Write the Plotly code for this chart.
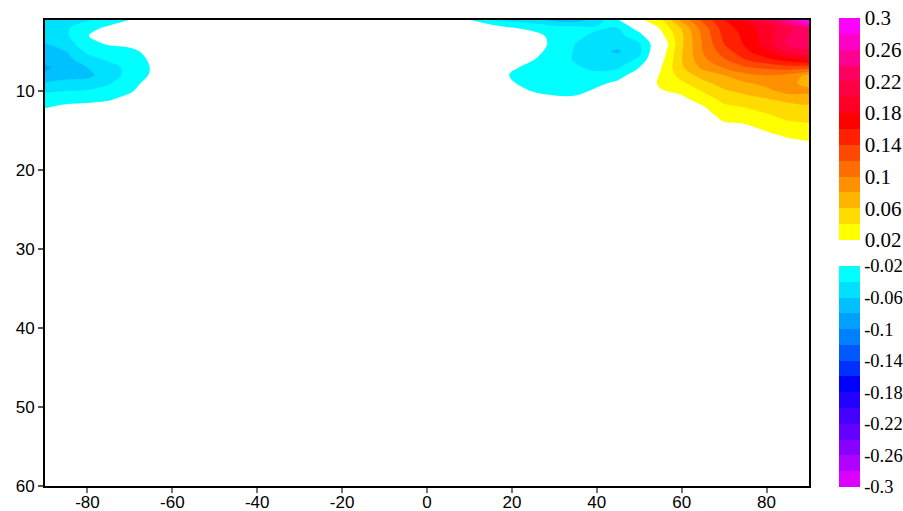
import plotly.graph_objects as go

# ---------------- data ----------------
lon = [-90, -85, -80, -75, -70, -65, -60, 5, 10, 15, 20, 25, 30, 35, 40, 45, 50, 55, 60, 65, 70, 75, 80, 85, 90]
depth = [1, 2, 3, 4, 5, 6, 7, 8, 9, 10, 11, 12, 14, 16, 18, 60]

z_d01 = [-0.045, -0.045, -0.042, -0.035, -0.019, 0, 0, 0, -0.018, -0.04, -0.046, -0.05, -0.065, -0.07, -0.05, -0.022, 0.014, 0.037, 0.085, 0.125, 0.16, 0.185, 0.215, 0.26, 0.31]
z_d02 = [-0.05, -0.042, -0.03, -0.014, -0.004, 0, 0, 0, 0, -0.004, -0.019, -0.025, -0.03, -0.032, -0.037, -0.04, -0.01, 0.022, 0.062, 0.11, 0.15, 0.17, 0.19, 0.215, 0.235]
z_d03 = [-0.055, -0.043, -0.021, -0.006, 0, 0, 0, 0, 0, 0, -0.008, -0.013, -0.026, -0.035, -0.045, -0.046, -0.028, 0.012, 0.056, 0.105, 0.145, 0.165, 0.19, 0.22, 0.232]
z_d04 = [-0.061, -0.05, -0.026, -0.018, -0.014, -0.006, 0, 0, 0, 0, -0.006, -0.012, -0.024, -0.04, -0.05, -0.053, -0.042, 0.0, 0.057, 0.102, 0.14, 0.163, 0.19, 0.225, 0.235]
z_d05 = [-0.066, -0.06, -0.036, -0.028, -0.026, -0.013, 0, 0, 0, 0, -0.008, -0.014, -0.027, -0.042, -0.054, -0.063, -0.045, 0.005, 0.058, 0.1, 0.13, 0.155, 0.178, 0.205, 0.215]
z_d06 = [-0.072, -0.066, -0.048, -0.037, -0.031, -0.017, 0, 0, 0, 0, -0.012, -0.019, -0.031, -0.042, -0.05, -0.05, -0.037, 0.012, 0.059, 0.095, 0.118, 0.14, 0.155, 0.17, 0.18]
z_d07 = [-0.084, -0.07, -0.06, -0.048, -0.034, -0.019, 0, 0, 0, 0, -0.017, -0.026, -0.033, -0.038, -0.044, -0.042, -0.02, 0.018, 0.057, 0.085, 0.102, 0.118, 0.125, 0.13, 0.13]
z_d08 = [-0.075, -0.066, -0.065, -0.05, -0.033, -0.018, 0, 0, 0, 0, -0.023, -0.03, -0.034, -0.035, -0.036, -0.03, -0.005, 0.022, 0.048, 0.068, 0.08, 0.094, 0.1, 0.095, 0.074]
z_d09 = [-0.058, -0.055, -0.052, -0.042, -0.028, -0.012, 0, 0, 0, 0, -0.018, -0.029, -0.032, -0.033, -0.026, -0.014, 0, 0.024, 0.036, 0.054, 0.068, 0.078, 0.085, 0.085, 0.074]
z_d10 = [-0.042, -0.04, -0.038, -0.032, -0.023, -0.006, 0, 0, 0, 0, -0.01, -0.021, -0.026, -0.028, -0.015, -0.004, 0, 0.018, 0.025, 0.041, 0.057, 0.065, 0.075, 0.087, 0.085]
z_d11 = [-0.033, -0.03, -0.028, -0.023, -0.012, 0, 0, 0, 0, 0, 0, -0.01, -0.015, -0.014, 0, 0, 0, 0.005, 0.015, 0.03, 0.046, 0.053, 0.059, 0.066, 0.07]
z_d12 = [-0.022, -0.015, -0.012, -0.01, 0, 0, 0, 0, 0, 0, 0, 0, 0, -0.005, 0, 0, 0, 0, 0.005, 0.018, 0.036, 0.041, 0.047, 0.053, 0.057]
z_d14 = [0, 0, 0, 0, 0, 0, 0, 0, 0, 0, 0, 0, 0, 0, 0, 0, 0, 0, 0, 0.005, 0.019, 0.021, 0.03, 0.038, 0.04]
z_d16 = [0, 0, 0, 0, 0, 0, 0, 0, 0, 0, 0, 0, 0, 0, 0, 0, 0, 0, 0, 0, 0.006, 0.008, 0.012, 0.019, 0.024]
z_d18 = [0, 0, 0, 0, 0, 0, 0, 0, 0, 0, 0, 0, 0, 0, 0, 0, 0, 0, 0, 0, 0, 0, 0, 0, 0]
z_d60 = [0, 0, 0, 0, 0, 0, 0, 0, 0, 0, 0, 0, 0, 0, 0, 0, 0, 0, 0, 0, 0, 0, 0, 0, 0]

z_rows = [z_d01, z_d02, z_d03, z_d04, z_d05, z_d06, z_d07, z_d08, z_d09, z_d10,
          z_d11, z_d12, z_d14, z_d16, z_d18, z_d60]

# band colours: positive from 0.02 upward, negative from -0.02 downward
pos_colors = ['#FFFF00', '#FFDC00', '#FFB400', '#FF9000', '#FF6E00', '#FF4800', '#FF2000',
              '#FF0000', '#FF0024', '#FF0040', '#FF0060', '#FF0090', '#FF00C8', '#FF00FF']
neg_colors = ['#00FFFF', '#00E0FF', '#00C0FF', '#00A0FF', '#0080FF', '#0058FF', '#0030FF',
              '#0000FF', '#2400FF', '#4400FF', '#6400FF', '#8800FF', '#B000FF', '#DC00FF']

pos_ticks = [0.02, 0.06, 0.1, 0.14, 0.18, 0.22, 0.26, 0.3]
neg_ticks = [-0.3, -0.26, -0.22, -0.18, -0.14, -0.1, -0.06, -0.02]
x_ticks = [-80, -60, -40, -20, 0, 20, 40, 60, 80]
y_ticks = [10, 20, 30, 40, 50, 60]

# ---------------- figure ----------------
bands = [neg_colors[-1]] + neg_colors[::-1] + ['#FFFFFF', '#FFFFFF'] + pos_colors + [pos_colors[-1]]
nb = len(bands) - 1
contour_cs = [[k / nb, c] for k, c in enumerate(bands)]


def stepped(colors):
    n = len(colors)
    out = []
    for i, c in enumerate(colors):
        out.append([i / n, c])
        out.append([(i + 1) / n, c])
    return out


W, H = 903, 511
ML, MT, MR, MB = 45, 20, 94, 25
pw, ph = W - ML - MR, H - MT - MB

fig = go.Figure()
fig.add_trace(go.Contour(
    x=lon, y=depth, z=z_rows,
    autocontour=False,
    contours=dict(start=-0.3, end=0.3, size=0.02, coloring='fill', showlines=False),
    colorscale=contour_cs, showscale=False, line=dict(width=0, smoothing=1),
    hoverinfo='skip'))

cb_common = dict(thickness=21, thicknessmode='pixels', lenmode='pixels', xanchor='left',
                 yanchor='top', xpad=0, ypad=0, outlinewidth=0, borderwidth=0,
                 ticks='', ticklabeloverflow='allow')

serif = 'Liberation Serif'
cb_x = (839 - ML) / pw
fig.add_trace(go.Scatter(
    x=[None], y=[None], mode='markers', showlegend=False, hoverinfo='skip',
    marker=dict(color=[0.1], cmin=0.02, cmax=0.3, colorscale=stepped(pos_colors), showscale=True,
                colorbar=dict(x=cb_x, y=1 + (MT - 18) / ph, len=222,
                              tickvals=pos_ticks, ticktext=[f'{v:g}' for v in pos_ticks],
                              tickfont=dict(family=serif, size=21, color='black'),
                              **cb_common))))
fig.add_trace(go.Scatter(
    x=[None], y=[None], mode='markers', showlegend=False, hoverinfo='skip',
    marker=dict(color=[-0.1], cmin=-0.3, cmax=-0.02, colorscale=stepped(neg_colors[::-1]), showscale=True,
                colorbar=dict(x=cb_x, y=1 - (266 - MT) / ph, len=221,
                              tickvals=neg_ticks, ticktext=[f'{v:g}' for v in neg_ticks],
                              tickfont=dict(family=serif, size=18.5, color='black'),
                              **cb_common))))

axis_font = dict(family='Liberation Sans', size=17, color='black')
fig.update_xaxes(range=[-90, 90], tickvals=x_ticks, ticktext=[str(v) for v in x_ticks],
                 ticks='outside', ticklen=5, tickcolor='#777777', ticklabelstandoff=-5,
                 tickwidth=1.5, showline=True, linecolor='black', linewidth=2, mirror=True,
                 showgrid=False, zeroline=False, tickfont=axis_font)
fig.update_yaxes(range=[60, 1], tickvals=y_ticks, ticktext=[str(v) for v in y_ticks],
                 ticks='outside', ticklen=5, tickcolor='#555555',
                 tickwidth=1.5, showline=True, linecolor='black', linewidth=2, mirror=True,
                 showgrid=False, zeroline=False, tickfont=axis_font)
fig.update_layout(width=W, height=H, margin=dict(l=ML, r=MR, t=MT, b=MB, autoexpand=False),
                  paper_bgcolor='white', plot_bgcolor='white', showlegend=False)

fig.write_html('out.html', config={'displayModeBar': False},
               post_script="document.body.style.margin='0';document.body.style.overflow='hidden';")
